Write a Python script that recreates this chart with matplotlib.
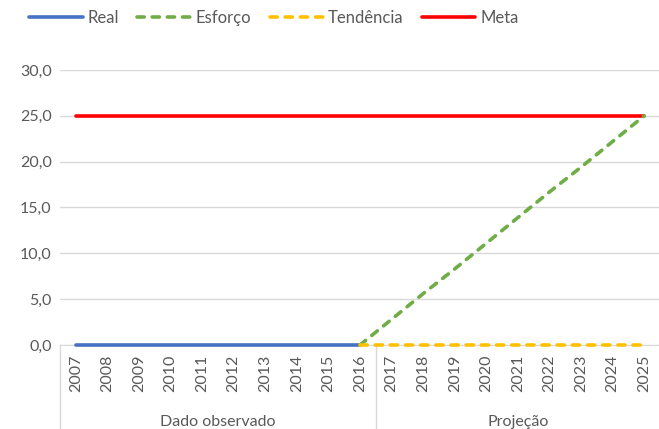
import matplotlib
matplotlib.use("Agg")
import matplotlib.pyplot as plt
import numpy as np

years = [str(y) for y in range(2007, 2026)]
real = [0.0]*10 + [None]*9
esforco = [None]*9 + [0.0, 2.8, 5.6, 8.3, 11.1, 13.9, 16.7, 19.4, 22.2, 25.0]
tendencia = [None]*9 + [0.0]*10
meta = [25.0]*19
groups = ["Dado observado", "Projeção"]
group_sizes = [10, 9]
yticks = [0, 5, 10, 15, 20, 25, 30]

def arr(v):
    return np.array([np.nan if x is None else x for x in v], dtype=float)

plt.rcParams['font.family'] = ['Lato', 'DejaVu Sans']
txt = '#595959'
W, H = 659, 429
fig = plt.figure(figsize=(W/100, H/100), dpi=100)
x0, x1 = 60, 660
yb, yt = 345, 70
ax = fig.add_axes([x0/W, (H-yb)/H, (x1-x0)/W, (yb-yt)/H])
x = np.arange(len(years))
lw = 2.6
ax.plot(x, arr(real), color='#4472C4', lw=lw, solid_capstyle='round', zorder=3, label='Real', clip_on=False)
ax.plot(x, arr(esforco), color='#70AD47', lw=lw, dashes=(2, 2.2), dash_capstyle='round', zorder=4, label='Esforço', clip_on=False)
ax.plot(x, arr(tendencia), color='#FFC000', lw=lw, dashes=(2, 2.2), dash_capstyle='round', zorder=5, label='Tendência', clip_on=False)
ax.plot(x, arr(meta), color='#FF0000', lw=lw, solid_capstyle='round', zorder=3, label='Meta', clip_on=False)
ax.set_xlim(-0.5, len(years)-0.5)
ax.set_ylim(0, 30)
ax.set_yticks(yticks)
ax.set_yticklabels([f"{v:.1f}".replace('.', ',') for v in yticks], color=txt, fontsize=11.5)
ax.yaxis.grid(True, color='#d9d9d9', lw=1)
ax.set_axisbelow(True)
for s in ['top', 'right', 'left']:
    ax.spines[s].set_visible(False)
ax.spines['bottom'].set_color('#d9d9d9')
ax.spines['bottom'].set_zorder(0.5)
ax.tick_params(axis='y', length=0, pad=6)
ax.set_xticks(x)
ax.set_xticklabels(years, rotation=90, color=txt, fontsize=11.5)
ax.tick_params(axis='x', length=0, pad=7)

# group separators and labels
trans = ax.get_xaxis_transform()
bounds = [-0.5]
for g in group_sizes:
    bounds.append(bounds[-1] + g)
for b in bounds:
    ax.plot([b, b], [0, -0.35], transform=trans, color='#d9d9d9', lw=1, clip_on=False, zorder=0.5)
for i, g in enumerate(groups):
    cx = (bounds[i] + bounds[i+1]) / 2
    ax.text(cx, -0.28, g, transform=trans, ha='center', va='center', color=txt, fontsize=11.5)

handles, labels = ax.get_legend_handles_labels()
fig.legend(handles, labels, loc='center', bbox_to_anchor=(274/W, 1-18/H), ncol=4, frameon=False,
           fontsize=12, handlelength=3.2, columnspacing=1.1, handletextpad=0.3, labelcolor=txt)
fig.savefig('out.png', dpi=100)
